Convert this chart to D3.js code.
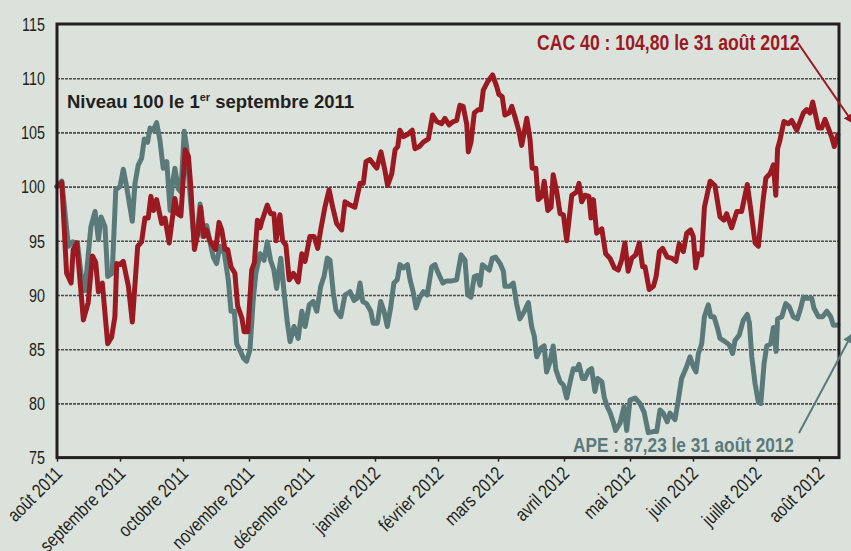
<!DOCTYPE html>
<html>
<head>
<meta charset="utf-8">
<script src="https://cdn.jsdelivr.net/npm/d3@7"></script>
<style>
  body { margin: 0; background: #dbe2dc; }
  svg { display: block; }
</style>
</head>
<body>
<div id="chart"></div>
<script>
// Tick labels and positions (trading session index)
const yTicks = [75, 80, 85, 90, 95, 100, 105, 110, 115];
const monthLabels = ["août 2011", "septembre 2011", "octobre 2011", "novembre 2011",
  "décembre 2011", "janvier 2012", "février 2012", "mars 2012", "avril 2012",
  "mai 2012", "juin 2012", "juillet 2012", "août 2012"];
const monthSessions = [0, 21, 42, 64, 84, 106, 127, 147, 169, 191, 212, 233, 254];

// CAC 40, base 100 (session, value)
const cac40 = [[0,100.0],[1.6,100.4],[3.2,92.0],[4.7,91.1],[5.4,94.2],[6.6,94.8],[8.8,87.7],[10.4,89.3],[11.8,93.6],[12.9,93.0],[13.8,90.3],[15.1,91.1],[16.9,85.5],[18.2,86.1],[19.3,88.0],[19.9,92.9],[21.0,92.8],[22.1,93.1],[23.8,90.8],[25.1,87.5],[26.9,94.5],[28.2,94.9],[29.3,97.1],[30.4,97.1],[31.3,99.1],[32.2,97.8],[33.2,98.8],[34.9,96.6],[36.0,97.1],[37.4,94.8],[39.3,98.9],[40.2,97.5],[41.3,97.3],[42.7,103.4],[43.8,102.8],[44.6,100.0],[45.8,94.2],[46.9,95.6],[47.9,98.1],[49.0,95.4],[49.9,96.0],[50.8,95.1],[51.8,94.6],[52.9,94.2],[54.0,96.7],[54.9,96.0],[56.0,94.2],[56.9,94.2],[58.0,92.6],[59.3,92.0],[60.2,89.0],[61.6,87.9],[62.4,86.6],[63.6,86.6],[64.9,92.3],[65.8,93.0],[66.8,96.9],[67.7,96.2],[68.4,96.9],[70.1,98.3],[71.2,97.5],[72.3,97.5],[73.0,95.0],[74.3,97.4],[75.2,95.0],[76.3,94.6],[77.4,91.4],[78.8,92.0],[80.4,91.2],[81.6,93.8],[82.7,93.1],[84.3,95.4],[85.7,95.4],[86.9,94.3],[87.9,96.0],[89.3,98.1],[90.7,99.7],[91.9,98.1],[93.2,96.6],[94.9,96.0],[96.0,98.6],[97.7,98.3],[99.3,98.1],[101.0,100.3],[102.1,100.3],[103.0,102.3],[104.3,102.5],[105.4,102.1],[106.6,101.7],[108.0,103.2],[109.3,101.5],[110.2,100.1],[111.6,101.2],[112.7,103.4],[113.6,103.7],[114.3,105.2],[115.4,104.6],[116.8,104.8],[118.4,105.2],[119.3,103.5],[120.8,103.7],[122.1,104.1],[123.8,104.4],[125.2,106.6],[126.6,106.0],[128.2,105.8],[129.3,106.3],[130.7,105.7],[132.1,106.0],[133.2,106.1],[134.3,107.5],[135.4,107.4],[136.6,105.7],[137.1,103.2],[138.0,104.1],[139.1,106.8],[140.4,107.1],[141.3,107.1],[142.1,108.9],[143.6,109.7],[145.2,110.3],[146.6,109.2],[147.3,108.5],[148.4,108.3],[149.3,106.6],[150.7,106.8],[151.6,107.4],[152.7,106.4],[154.0,105.1],[154.9,103.8],[156.6,106.3],[157.7,104.3],[158.4,101.7],[159.6,101.7],[160.4,98.8],[161.6,99.1],[162.4,100.5],[163.6,97.8],[164.7,98.1],[165.4,101.1],[166.6,99.5],[167.7,97.5],[168.8,97.4],[169.9,95.0],[171.6,99.2],[173.2,99.5],[174.0,100.3],[174.9,98.6],[176.0,99.2],[177.3,99.1],[178.0,97.1],[178.8,98.8],[179.9,95.7],[181.6,96.1],[182.9,93.8],[184.3,93.4],[185.8,92.5],[187.1,92.3],[188.2,93.2],[189.3,94.8],[190.4,92.2],[191.6,93.4],[192.9,93.7],[194.1,94.8],[195.2,92.6],[196.0,92.6],[197.4,90.5],[198.8,90.8],[199.7,91.7],[200.8,94.0],[201.9,94.3],[203.4,93.5],[204.9,93.4],[206.3,93.1],[207.4,94.7],[208.8,94.0],[209.9,95.7],[211.2,96.0],[212.1,95.4],[212.9,92.5],[213.8,93.8],[214.9,93.7],[215.8,98.1],[217.7,100.5],[219.3,100.1],[221.0,97.2],[222.3,96.9],[223.2,97.5],[224.9,96.2],[226.6,97.7],[228.2,97.7],[230.1,100.2],[231.3,97.8],[232.7,94.8],[233.8,94.5],[235.4,98.8],[236.3,100.8],[237.7,101.2],[238.8,102.0],[239.6,99.2],[240.2,103.5],[241.0,104.3],[242.3,106.0],[243.8,105.8],[244.9,106.1],[246.6,105.2],[247.7,106.0],[248.8,106.8],[249.9,107.1],[251.0,106.8],[251.9,107.8],[252.7,106.8],[253.8,105.4],[254.9,105.4],[256.0,106.2],[257.1,105.4],[258.2,104.6],[259.1,103.7],[260.3,104.8]];

// APE, base 100 (session, value)
const ape = [[0,100.0],[1.6,100.5],[2.7,97.5],[3.8,94.5],[5.2,94.9],[6.8,94.8],[8.0,92.0],[9.3,90.4],[11.3,96.3],[12.7,97.7],[13.8,95.1],[14.7,97.2],[16.0,96.3],[16.9,91.7],[18.4,92.0],[19.6,99.7],[21.0,100.0],[22.1,101.6],[23.2,100.0],[25.1,96.8],[26.0,100.3],[27.1,102.0],[28.2,102.6],[29.1,104.4],[30.2,104.1],[31.0,105.4],[32.1,105.2],[33.2,105.9],[34.3,104.3],[35.4,101.7],[36.6,102.3],[37.7,97.8],[38.4,100.1],[39.3,101.7],[40.4,99.8],[41.3,99.5],[42.4,105.1],[43.2,103.7],[44.3,99.4],[45.8,94.8],[46.9,96.2],[47.7,98.4],[48.6,95.4],[49.9,96.4],[51.0,94.9],[52.1,93.5],[53.2,92.9],[54.3,94.5],[55.8,93.8],[57.1,91.4],[58.0,88.5],[59.1,88.5],[59.9,85.5],[61.0,84.9],[62.1,84.2],[63.2,83.9],[64.3,84.9],[65.4,89.5],[66.3,92.0],[67.7,93.8],[69.0,93.2],[70.1,94.9],[71.2,93.2],[72.3,92.3],[73.2,90.6],[74.6,93.4],[75.7,90.2],[76.8,87.4],[77.7,85.7],[79.0,87.1],[80.4,86.0],[81.6,88.5],[82.7,87.1],[84.1,89.1],[85.4,89.4],[86.6,88.5],[87.9,90.8],[89.0,91.7],[90.1,93.4],[91.0,93.2],[92.1,90.2],[93.0,88.6],[94.6,88.0],[96.0,90.0],[97.7,90.3],[99.0,89.5],[100.1,89.7],[101.0,91.1],[101.9,89.4],[103.2,89.2],[104.6,88.5],[105.4,87.4],[106.8,87.4],[107.9,89.4],[109.0,88.5],[110.1,87.1],[111.2,88.8],[112.3,91.1],[113.4,91.4],[114.3,92.8],[115.4,92.5],[116.8,92.8],[117.7,91.4],[118.8,90.2],[119.7,88.8],[120.8,89.7],[122.1,90.3],[123.4,90.0],[124.9,92.6],[126.0,92.8],[127.1,92.0],[128.6,91.1],[129.9,91.3],[131.6,91.3],[133.2,91.4],[134.7,93.7],[136.0,93.2],[136.9,90.0],[138.0,89.8],[139.1,91.7],[140.2,91.8],[141.0,90.9],[141.8,92.8],[143.2,92.5],[144.1,92.3],[145.1,93.4],[146.2,93.5],[147.7,92.9],[148.8,92.2],[149.3,90.8],[151.0,90.8],[152.1,91.1],[153.2,89.2],[154.3,87.8],[155.8,88.5],[157.1,89.3],[158.2,87.1],[159.1,86.2],[159.9,84.3],[161.3,85.1],[162.4,85.3],[163.2,82.9],[164.3,83.8],[165.4,85.3],[166.3,83.1],[167.7,82.0],[168.8,81.7],[169.9,80.5],[171.3,82.3],[172.1,83.2],[173.2,83.1],[174.0,83.6],[175.1,82.3],[176.0,82.3],[177.1,83.0],[178.2,83.2],[179.3,81.1],[180.2,82.3],[181.6,82.0],[182.4,80.6],[183.4,79.7],[184.3,79.2],[185.4,78.3],[186.2,77.5],[187.7,78.2],[189.0,79.7],[189.9,77.5],[191.0,80.3],[192.7,80.5],[194.3,80.0],[195.7,79.2],[197.1,77.3],[198.8,77.4],[199.9,77.4],[201.0,79.4],[202.1,79.1],[203.4,78.3],[204.3,79.1],[206.0,78.5],[207.1,80.3],[208.2,82.3],[209.9,83.4],[211.0,84.3],[212.1,83.4],[213.0,82.9],[213.8,84.6],[214.9,85.5],[215.8,88.0],[217.1,89.1],[217.9,88.0],[219.0,88.0],[220.1,87.0],[221.0,86.0],[222.7,85.7],[224.1,85.4],[225.2,84.6],[226.0,85.8],[227.4,86.3],[228.8,87.7],[230.1,88.2],[230.8,87.4],[231.6,84.3],[232.7,81.8],[233.8,80.1],[234.6,80.0],[235.7,83.7],[236.6,85.3],[237.9,85.5],[238.8,87.0],[239.7,84.8],[240.2,87.8],[241.6,88.0],[242.9,89.2],[244.1,88.9],[245.4,88.0],[246.8,87.8],[247.9,88.8],[248.8,89.8],[249.9,89.7],[251.6,89.7],[252.3,88.8],[253.8,88.0],[255.2,88.0],[256.6,88.5],[257.9,88.0],[258.8,87.2],[260.3,87.23]];

const w = 851;
const h = 551;
const plot = { left: 57, right: 839, top: 24, bottom: 457.6 };
const red = "#9b1a22";
const teal = "#5a7a7a";
const ink = "#231f20";
const narrow = "scale(0.82,1)";

const svg = d3
  .select("#chart")
  .append("svg")
  .attr("width", w)
  .attr("height", h);

svg.append("rect").attr("width", w).attr("height", h).attr("fill", "#dbe2dc");

const x = d3.scaleLinear().domain([0, 261]).range([plot.left, plot.left + 783]);
const y = d3.scaleLinear().domain([75, 115]).range([plot.bottom, plot.top]);

// grid lines
const grid = svg
  .append("g")
  .attr("transform", `translate(${plot.left},0)`)
  .call(
    d3.axisLeft(y)
      .tickValues(yTicks.slice(1, -1))
      .tickSize(-(plot.right - plot.left))
      .tickFormat("")
  );
grid.select(".domain").remove();
grid.selectAll(".tick line")
  .attr("stroke", "#4e4e4e")
  .attr("stroke-width", 1.6)
  .attr("stroke-dasharray", "3,1");

// y labels
const yAxis = svg
  .append("g")
  .attr("transform", `translate(${plot.left},0)`)
  .call(d3.axisLeft(y).tickValues(yTicks).tickSize(0).tickPadding(0));
yAxis.select(".domain").remove();
yAxis.selectAll(".tick text")
  .attr("x", null)
  .attr("dy", "0.36em")
  .attr("transform", `translate(-12,0) ${narrow}`)
  .attr("fill", ink)
  .style("font-family", "'Liberation Sans', Arial, sans-serif")
  .style("font-size", "17.5px");

// x axis
const xAxis = svg
  .append("g")
  .attr("transform", `translate(0,${plot.bottom})`)
  .call(
    d3.axisBottom(x)
      .tickValues(monthSessions)
      .tickSize(4)
      .tickFormat((d, i) => monthLabels[i])
  );
xAxis.select(".domain").remove();
xAxis.selectAll(".tick line").attr("stroke", ink).attr("stroke-width", 1.5);
xAxis.selectAll(".tick text")
  .attr("y", null)
  .attr("dy", null)
  .attr("text-anchor", "end")
  .attr("transform", `translate(6,17) rotate(-45) ${narrow}`)
  .attr("fill", ink)
  .style("font-family", "'Liberation Sans', Arial, sans-serif")
  .style("font-size", "19px");

// lines
const line = d3.line().x(d => x(d[0])).y(d => y(d[1]));

svg.append("path")
  .datum(ape)
  .attr("d", line)
  .attr("fill", "none")
  .attr("stroke", teal)
  .attr("stroke-width", 5)
  .attr("stroke-linejoin", "round")
  .attr("stroke-linecap", "round");

svg.append("path")
  .datum(cac40)
  .attr("d", line)
  .attr("fill", "none")
  .attr("stroke", red)
  .attr("stroke-width", 5)
  .attr("stroke-linejoin", "round")
  .attr("stroke-linecap", "round");

// frame
svg.append("rect")
  .attr("x", plot.left)
  .attr("y", plot.top)
  .attr("width", plot.right - plot.left)
  .attr("height", plot.bottom - plot.top)
  .attr("fill", "none")
  .attr("stroke", ink)
  .attr("stroke-width", 3);

// title
const title = svg.append("text")
  .attr("x", 67)
  .attr("y", 108)
  .attr("fill", ink)
  .style("font-family", "'Liberation Sans', Arial, sans-serif")
  .style("font-weight", "bold")
  .style("font-size", "18.5px");
title.append("tspan").text("Niveau 100 le 1");
title.append("tspan").attr("dy", -7).style("font-size", "11px").text("er");
title.append("tspan").attr("dy", 7).text(" septembre 2011");

// arrow markers
const defs = svg.append("defs");
[["arrRed", red], ["arrTeal", teal]].forEach(([id, c]) => {
  defs.append("marker")
    .attr("id", id)
    .attr("viewBox", "0 0 10 10")
    .attr("refX", 9)
    .attr("refY", 5)
    .attr("markerWidth", 5)
    .attr("markerHeight", 5)
    .attr("orient", "auto")
    .append("path")
    .attr("d", "M0,0 L10,5 L0,10 z")
    .attr("fill", c);
});

// annotations
svg.append("text")
  .attr("transform", `translate(537,50) ${narrow}`)
  .attr("fill", red)
  .style("font-family", "'Liberation Sans', Arial, sans-serif")
  .style("font-weight", "bold")
  .style("font-size", "21.5px")
  .text("CAC 40 : 104,80 le 31 août 2012");

svg.append("line")
  .attr("x1", 798).attr("y1", 43)
  .attr("x2", 853).attr("y2", 123)
  .attr("stroke", red)
  .attr("stroke-width", 2)
  .attr("marker-end", "url(#arrRed)");

svg.append("text")
  .attr("transform", `translate(573,451.5) ${narrow}`)
  .attr("fill", teal)
  .style("font-family", "'Liberation Sans', Arial, sans-serif")
  .style("font-weight", "bold")
  .style("font-size", "21px")
  .text("APE : 87,23 le 31 août 2012");

svg.append("line")
  .attr("x1", 799).attr("y1", 433)
  .attr("x2", 852).attr("y2", 334)
  .attr("stroke", teal)
  .attr("stroke-width", 2)
  .attr("marker-end", "url(#arrTeal)");
</script>
</body>
</html>
